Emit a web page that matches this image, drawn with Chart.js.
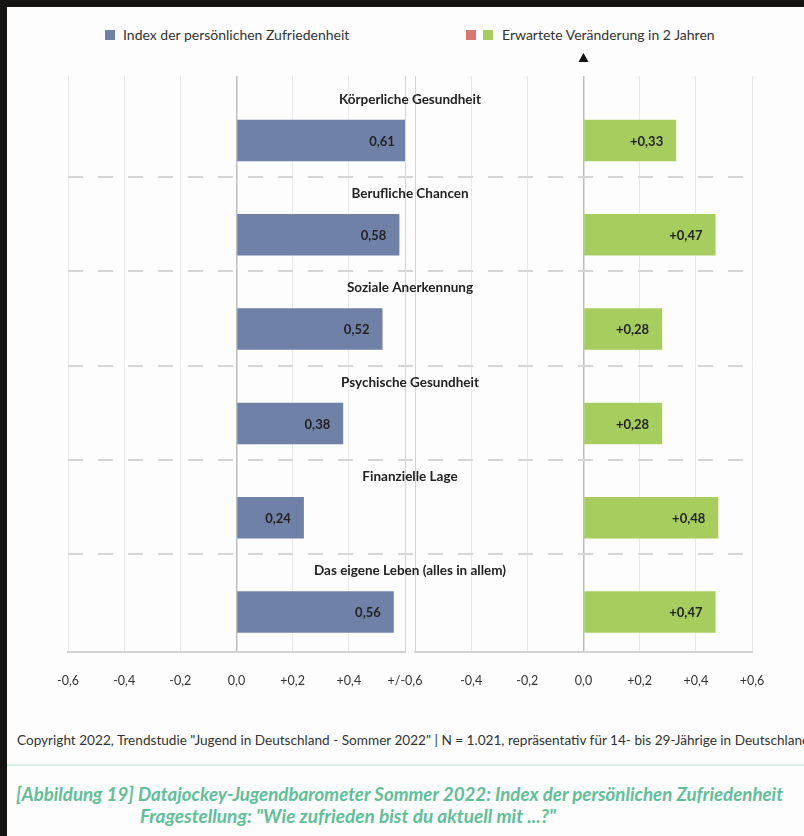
<!DOCTYPE html>
<html>
<head>
<meta charset="utf-8">
<script src="https://cdn.jsdelivr.net/npm/chart.js@4"></script>
<style>
  body{margin:0;background:#161412;width:804px;height:836px;overflow:hidden;position:relative;font-family:Lato,sans-serif}
  .page{position:absolute;left:7px;top:7px;right:0;bottom:0;background:#fdfdfd}
  .chartbox{position:absolute;left:0;top:0;width:804px;height:700px}
  .sq{position:absolute;width:10px;height:10px}
  .lg{position:absolute;font-size:14px;color:#333;line-height:16px}
  .copy{position:absolute;left:17px;top:732px;font-size:13.6px;color:#333;white-space:nowrap}
  .rule{position:absolute;left:7px;right:0;top:764px;height:2px;background:#d8eee7}
  .ttl{position:absolute;font-size:19px;font-style:italic;font-weight:700;color:#5fbf98;white-space:nowrap;line-height:22px}
</style>
</head>
<body>
<div class="page"></div>
<div class="sq" style="left:105px;top:30px;background:#7081a8"></div>
<div class="lg" style="left:123px;top:27px">Index der persönlichen Zufriedenheit</div>
<div class="sq" style="left:466px;top:30px;background:#d77673"></div>
<div class="sq" style="left:483px;top:30px;background:#a6cd5e"></div>
<div class="lg" style="left:502px;top:27px">Erwartete Veränderung in 2 Jahren</div>
<div class="chartbox"><canvas id="chart"></canvas></div>
<div class="copy">Copyright 2022, Trendstudie "Jugend in Deutschland - Sommer 2022" | N = 1.021, repräsentativ für 14- bis 29-Jährige in Deutschland</div>
<div class="rule"></div>
<div class="ttl" style="left:16px;top:783px;font-size:18.7px">[Abbildung 19] Datajockey-Jugendbarometer Sommer 2022: Index der persönlichen Zufriedenheit</div>
<div class="ttl" style="left:140px;top:805px">Fragestellung: "Wie zufrieden bist du aktuell mit ...?"</div>
<script>
const categories = ["Körperliche Gesundheit","Berufliche Chancen","Soziale Anerkennung","Psychische Gesundheit","Finanzielle Lage","Das eigene Leben (alles in allem)"]
const satisfaction = [0.61,0.58,0.52,0.38,0.24,0.56]
const expectedChange = [0.33,0.47,0.28,0.28,0.48,0.47]
const xTicks = [-0.6,-0.4,-0.2,0,0.2,0.4,0.6]

const BLUE = "#7081a8", GREEN = "#a6cd5e", RED = "#d77673"
const GAP = 10

function fmt(v,digits,plus){
    let s = Math.abs(v).toFixed(digits).replace(".",",")
    if(v<0) return "-"+s
    if(v==0) return s
    return plus ? "+"+s : s
}

// two x scales sit side by side, leave a small gap between them
const splitPanels = {
    id:"splitPanels",
    afterLayout(chart){
        const a = chart.chartArea, mid = (a.left+a.right)/2
        const L = chart.scales.xL, R = chart.scales.xR
        L.left = a.left; L.right = mid-GAP/2; L.width = L.right-L.left; L.configure()
        R.left = mid+GAP/2; R.right = a.right; R.width = R.right-R.left; R.configure()
    }
}

const labelsPlugin = {
    id:"labelsPlugin",
    afterDatasetsDraw(chart){
        const ctx = chart.ctx, a = chart.chartArea, y = chart.scales.y
        ctx.save()
        ctx.fillStyle = "#222"
        ctx.textBaseline = "middle"
        // category titles above the bars
        ctx.font = "bold 13.5px Lato"
        ctx.textAlign = "center"
        categories.forEach((c,i)=>{
            ctx.fillText(c,(a.left+a.right)/2,y.getPixelForValue(i)-41)
        })
        // values inside the bars
        ctx.font = "bold 13px Lato"
        ctx.textAlign = "right"
        chart.data.datasets.forEach((ds,di)=>{
            chart.getDatasetMeta(di).data.forEach((bar,i)=>{
                ctx.fillText(fmt(ds.data[i].x,2,di==1),bar.x-13,bar.y+1)
            })
        })
        // marker above the 0 line of the right panel
        const tx = chart.scales.xR.getPixelForValue(0)
        ctx.fillStyle = "#111"
        ctx.beginPath()
        ctx.moveTo(tx,53); ctx.lineTo(tx+5,62); ctx.lineTo(tx-5,62); ctx.closePath()
        ctx.fill()
        ctx.restore()
    }
}

function xScale(side){
    return {
        type:"linear",
        position:"bottom",
        stack:"x",
        stackWeight:1,
        min:-0.6,
        max:0.6,
        afterBuildTicks:(s)=>{ s.ticks = xTicks.map(v=>({value:v})) },
        afterFit:(s)=>{ s.height = 40 },
        border:{display:true,color:"#d2d2d2",width:2},
        grid:{
            drawTicks:false,
            color:(c)=> c.tick && c.tick.value==0 ? "#bdbdbd" : (c.tick && ((side=="L"&&c.tick.value==0.6)||(side=="R"&&c.tick.value==-0.6)) ? "#d4d4d4" : "#e9e9e9"),
            lineWidth:(c)=> c.tick && c.tick.value==0 ? 1.5 : 1
        },
        ticks:{
            autoSkip:false,
            maxRotation:0,
            padding:21,
            color:"#333",
            font:{family:"Lato",size:12.5},
            callback:(v)=>{
                if(side=="L" && v==0.6) return "+/-0,6"
                if(side=="R" && v==-0.6) return ""
                return fmt(v,1,true)
            }
        }
    }
}

new Chart(document.getElementById("chart"),{
    type:"bar",
    data:{
        datasets:[{
            label:"Index der persönlichen Zufriedenheit",
            data:categories.map((c,i)=>({x:satisfaction[i],y:i})),
            xAxisID:"xL",
            backgroundColor:BLUE
        },{
            label:"Erwartete Veränderung in 2 Jahren",
            data:categories.map((c,i)=>({x:expectedChange[i],y:i})),
            xAxisID:"xR",
            backgroundColor:(c)=> c.raw && c.raw.x<0 ? RED : GREEN
        }]
    },
    options:{
        indexAxis:"y",
        responsive:true,
        maintainAspectRatio:false,
        animation:false,
        grouped:false,
        categoryPercentage:1,
        barPercentage:0.44,
        layout:{padding:{top:76,left:68,right:52,bottom:8}},
        scales:{
            xL:xScale("L"),
            xR:xScale("R"),
            y:{
                type:"linear",
                position:"left",
                reverse:true,
                offset:false,
                min:-0.684,
                max:5.424,
                afterBuildTicks:(s)=>{ s.ticks = categories.slice(1).map((c,i)=>({value:i+0.387})) },
                afterFit:(s)=>{ s.width = 0 },
                border:{display:false,dash:[15,15]},
                grid:{offset:false,drawTicks:false,color:"#d6d6d6",lineWidth:2},
                ticks:{display:false}
            }
        },
        plugins:{legend:{display:false},tooltip:{enabled:false}}
    },
    plugins:[splitPanels,labelsPlugin]
})
</script>
</body>
</html>
